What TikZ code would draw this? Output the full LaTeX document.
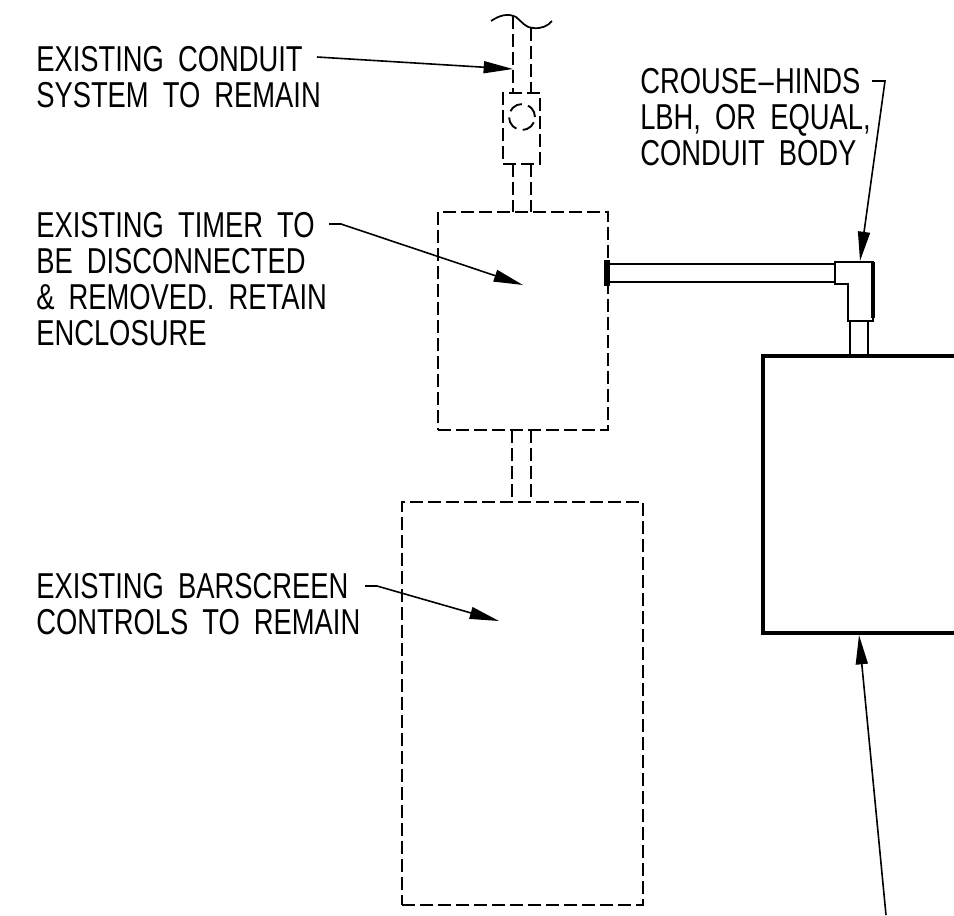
\documentclass[tikz,border=0pt]{standalone}
\usepackage{fontspec}
\setmainfont[FakeStretch=0.76,WordSpace=1.85]{Liberation Sans}
\usetikzlibrary{arrows.meta}
\tikzset{
  x=0.75pt,y=-0.75pt,
  label/.style={anchor=north west,inner sep=0pt,align=left,font=\fontsize{27pt}{27pt}\selectfont},
  hidden/.style={line width=1.5pt,dash pattern=on 9.75pt off 3.75pt},
  solidline/.style={line width=1.6pt},
  heavy/.style={line width=3.2pt},
  leader/.style={line width=1.2pt,-{Triangle[length=22pt,width=9pt]}},
}
\begin{document}
\begin{tikzpicture}
\useasboundingbox (0,0) rectangle (954,915);
% labels
\node[label] (tconduit) at (36,46) {EXISTING CONDUIT\\SYSTEM TO REMAIN};
\node[label] (ttimer) at (36,212) {EXISTING TIMER TO\\BE DISCONNECTED\\\& REMOVED. RETAIN\\ENCLOSURE};
\node[label] (tbar) at (36,573) {EXISTING BARSCREEN\\CONTROLS TO REMAIN};
\node[label] (tcrouse) at (640,68) {CROUSE\kern1pt--\kern1pt HINDS\\LBH, OR EQUAL,\\CONDUIT BODY};
% conduit above timer
\coordinate (w1) at (491,21);
\coordinate (w2) at (552,21);
\draw[line width=1.3pt] (w1) .. controls (500,15) and (508,13) .. (516,17) .. controls (522,22) and (526,28) .. (533,28) .. controls (541,29) and (548,26) .. (w2);
\draw[hidden] (513,16) -- (513,93);
\draw[hidden] (531,28) -- (531,93);
\node[draw,hidden,minimum width=37pt*0.75,minimum height=71pt*0.75,inner sep=0pt,outer sep=0pt,anchor=north west] (coupling) at (503,93) {};
\node[draw,circle,line width=1.4pt,dash pattern=on 10.5pt off 4.9pt,minimum size=26pt*0.75,inner sep=0pt] (port) at (522,117) {};
\draw[hidden] (513,164) -- (513,212);
\draw[hidden] (531,164) -- (531,212);
% timer
\node[draw,hidden,minimum width=170pt*0.75,minimum height=218pt*0.75,inner sep=0pt,outer sep=0pt,anchor=north west] (timer) at (438,212) {};
\draw[hidden] (512,430) -- (512,502);
\draw[hidden] (531,430) -- (531,502);
% controls
\node[draw,hidden,minimum width=241pt*0.75,minimum height=403pt*0.75,inner sep=0pt,outer sep=0pt,anchor=north west] (controls) at (402,502) {};
% panel
\draw[line width=2.4pt] (954,356) -- (763,356) -- (763,633) -- (954,633);
% horizontal pipe
\draw[solidline] (606,264) -- (835,264);
\draw[solidline] (606,282) -- (835,282);
\draw[line width=4pt] (607,260) -- (607,286);
% elbow
\draw[solidline] (835,262) -- (873,262) -- (873,321) -- (848,321) -- (848,284) -- (835,284) -- cycle;
\draw[heavy] (873,262) -- (873,318);
% nipple
\draw[solidline] (850,321) -- (850,356);
\draw[solidline] (868,321) -- (868,356);
\draw[line width=2.8pt] (847,356) -- (871,356);
% leaders
\coordinate (a1s) at (317,57); \coordinate (a1e) at (513,69);
\draw[leader] (a1s) -- (a1e);
\coordinate (a2s) at (329,224); \coordinate (a2b) at (341,224); \coordinate (a2e) at (523,285);
\draw[leader] (a2s) -- (a2b) -- (a2e);
\coordinate (a3s) at (365,586); \coordinate (a3b) at (377,586); \coordinate (a3e) at (499,621);
\draw[leader] (a3s) -- (a3b) -- (a3e);
\coordinate (a4s) at (872,81); \coordinate (a4b) at (885,81); \coordinate (a4e) at (860,261);
\draw[leader] (a4s) -- (a4b) -- (a4e);
\coordinate (a5s) at (886,915); \coordinate (a5e) at (859,635);
\draw[leader] (a5s) -- (a5e);
\end{tikzpicture}
\end{document}
